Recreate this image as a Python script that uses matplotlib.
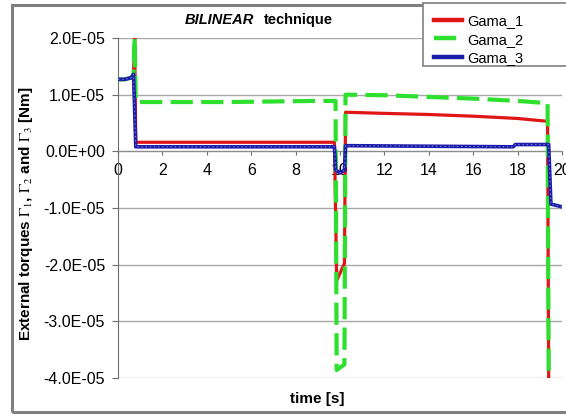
import numpy as np
import matplotlib
matplotlib.use("Agg")
import matplotlib.pyplot as plt
from matplotlib.patches import Rectangle
from matplotlib.ticker import FuncFormatter, MultipleLocator

plt.rcParams['font.family'] = ['Liberation Sans', 'DejaVu Sans']
plt.rcParams['mathtext.fontset'] = 'stix'
plt.rcParams['lines.scale_dashes'] = False

# torques are kept in units of 1E-05 Nm
ESCALA = 1e-5

# Gama_1
t_gama1 = [0.0, 0.3, 0.6, 0.7, 0.75, 0.8, 9.75, 9.85, 10.2, 10.25,
           12.0, 14.0, 16.0, 18.0, 19.35, 19.4]
gama1 = [1.27, 1.27, 1.30, 1.36, 2.0, 0.16, 0.16, -2.28, -1.98, 0.69,
         0.67, 0.65, 0.62, 0.58, 0.53, -4.0]

# Gama_2
t_gama2 = [0.0, 0.3, 0.6, 0.7, 0.75, 0.8, 5.0, 9.0, 9.8, 9.85, 10.2, 10.25,
           12.0, 14.0, 16.0, 18.0, 19.35, 19.4]
gama2 = [1.27, 1.27, 1.30, 1.36, 2.0, 0.87, 0.87, 0.89, 0.89, -3.86, -3.76, 1.0,
         0.99, 0.96, 0.93, 0.89, 0.85, -4.0]

# Gama_3
t_gama3 = [0.0, 0.3, 0.6, 0.7, 0.8, 9.75, 9.8, 10.0, 10.2, 10.25,
           17.8, 17.9, 19.4, 19.5, 20.0]
gama3 = [1.27, 1.27, 1.30, 1.36, 0.08, 0.08, -0.33, -0.38, -0.33, 0.10,
         0.08, 0.12, 0.12, -0.93, -0.98]

W, H = 566, 417
fig = plt.figure(figsize=(W / 100, H / 100), dpi=100)

# marco gris del area del grafico
fig.patches.append(Rectangle((12 / W, 5 / H), 1.0, (H - 10) / H,
                             transform=fig.transFigure, fill=False,
                             edgecolor='#808080', linewidth=2.2))

ax = fig.add_axes([118 / W, 39 / H, 444 / W, 340 / H])

l1, = ax.plot(t_gama1, np.array(gama1) * ESCALA, color='#e01515', lw=2.3,
              zorder=3)
l2, = ax.plot(t_gama2, np.array(gama2) * ESCALA, color='#2ee02e', lw=3.0,
              linestyle=(0, (16, 6)), zorder=4)
l3, = ax.plot(t_gama3, np.array(gama3) * ESCALA, color='#1c1ca8', lw=2.6,
              zorder=5)
ax.plot(t_gama3, np.array(gama3) * ESCALA, color='#7a7ae0', lw=0.8,
        linestyle=(0, (1, 2)), zorder=6)

ax.set_xlim(0, 20)
ax.set_ylim(-4e-5, 2e-5)
ax.xaxis.set_major_locator(MultipleLocator(2))
ax.yaxis.set_major_locator(MultipleLocator(1e-5))
ax.yaxis.set_major_formatter(FuncFormatter(lambda v, p: f"{v:.1E}"))
ax.xaxis.set_major_formatter(FuncFormatter(lambda v, p: f"{v:g}"))

ax.spines['top'].set_visible(False)
ax.spines['right'].set_visible(False)
ax.spines['bottom'].set_position(('data', 0))
ax.spines['bottom'].set_color('#8c8c8c')
ax.spines['left'].set_color('#6e6e6e')
ax.grid(axis='y', color='#a8a8a8', lw=1.0)
ax.set_axisbelow(True)
ax.tick_params(axis='y', direction='out', length=4.3, color='#6e6e6e',
               labelsize=11.5, pad=5)
ax.tick_params(axis='x', direction='out', length=3, color='#6e6e6e',
               labelsize=11.5, pad=5.5)

fig.text(185 / W, 1 - 20 / H, "BILINEAR", fontsize=10.5, fontweight='bold',
         style='italic', va='center', ha='left')
fig.text(333 / W, 1 - 20 / H, "technique", fontsize=10.5, fontweight='bold',
         va='center', ha='right')

fig.text(317 / W, 1 - 399 / H, "time [s]", fontsize=11, fontweight='bold',
         ha='center', va='center')
fig.text(26 / W, 1 - 214 / H,
         r"External torques $\Gamma_1$, $\Gamma_2$ and $\Gamma_3$ [Nm]",
         fontsize=11, fontweight='bold', rotation=90, ha='center', va='center')

# leyenda con marco propio, cortado por el borde derecho
fig.patches.append(Rectangle((423 / W, 1 - 66 / H), 1.0, 63 / H,
                             transform=fig.transFigure, facecolor='white',
                             edgecolor='#808080', linewidth=1.2, zorder=10))
leg = fig.legend([l1, l2, l3], ['Gama_1', 'Gama_2', 'Gama_3'],
                 loc='upper left', bbox_to_anchor=(424 / W, 1 - 4 / H),
                 frameon=False, fontsize=10.5, handlelength=1.9,
                 labelspacing=0.3, handletextpad=0.35, borderpad=0.2)
for linea in leg.get_lines():
    linea.set_linewidth(3.2)
leg.set_zorder(11)

fig.savefig("out.png", dpi=100)
